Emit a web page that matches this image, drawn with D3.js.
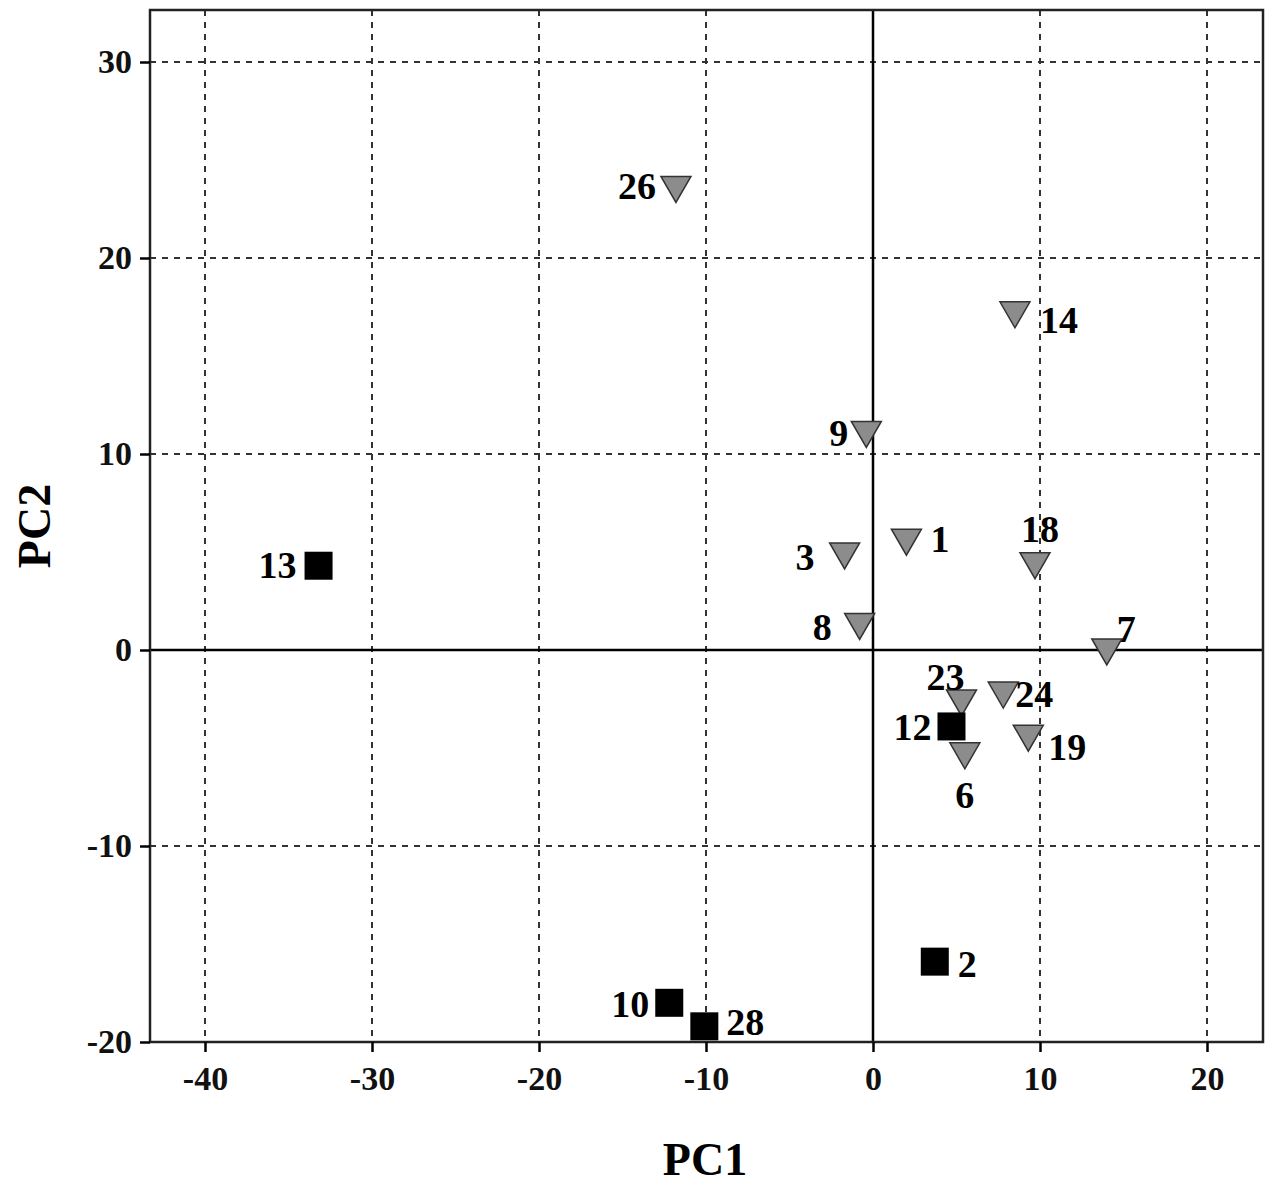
<!DOCTYPE html><html><head><meta charset="utf-8"><script src="https://cdn.jsdelivr.net/npm/d3@7"></script>
<style>body{margin:0;background:#fff}text{font-family:"Liberation Serif","Times New Roman",serif;font-weight:bold}</style></head><body><svg id="c" width="1273" height="1186"></svg><script>
const triLabels=["26","14","9","1","3","18","8","7","23","24","19","6"];
const triX=[-11.8,8.5,-0.4,2.0,-1.7,9.7,-0.8,14.0,5.3,7.8,9.3,5.5];
const triY=[23.5,17.1,11.0,5.5,4.8,4.3,1.2,-0.1,-2.7,-2.3,-4.5,-5.4];
const sqLabels=["13","12","2","10","28"];
const sqX=[-33.2,4.7,3.7,-12.2,-10.1];
const sqY=[4.3,-3.9,-15.9,-18.0,-19.2];
const xTicks=[-40,-30,-20,-10,0,10,20];
const yTicks=[-20,-10,0,10,20,30];
const off={"26":[-20,10,"end"],"14":[25,18,"start"],"9":[-18,12,"end"],"1":[24,10,"start"],"3":[-30,14,"end"],"18":[5,-24,"middle"],"8":[-28,14,"end"],"7":[10,-10,"start"],"23":[-16,-13,"middle"],"24":[12,12,"start"],"19":[20,22,"start"],"6":[0,52,"middle"],"13":[-22,12,"end"],"12":[-20,14,"end"],"2":[23,15,"start"],"10":[-20,14,"end"],"28":[22,9,"start"]};
const svg=d3.select("#c");
const L=150,R=1263,T=10,B=1042;
const x=d3.scaleLinear().domain([-40,20]).range([205,1207]);
const y=d3.scaleLinear().domain([-20,30]).range([1042,62]);
const fmt=d=>String(d);
const g=svg.append("g");
g.selectAll(".gx").data(xTicks).join("line").attr("x1",d=>x(d)).attr("x2",d=>x(d)).attr("y1",T).attr("y2",B).attr("stroke","#333").attr("stroke-width",2).attr("stroke-dasharray","6,6");
g.selectAll(".gy").data(yTicks).join("line").attr("y1",d=>y(d)).attr("y2",d=>y(d)).attr("x1",L).attr("x2",R).attr("stroke","#333").attr("stroke-width",2).attr("stroke-dasharray","6,6");
g.append("line").attr("x1",x(0)).attr("x2",x(0)).attr("y1",T).attr("y2",B).attr("stroke","#000").attr("stroke-width",2.5);
g.append("line").attr("y1",y(0)).attr("y2",y(0)).attr("x1",L).attr("x2",R).attr("stroke","#000").attr("stroke-width",2.5);
g.append("rect").attr("x",L).attr("y",T).attr("width",R-L).attr("height",B-T).attr("fill","none").attr("stroke","#222").attr("stroke-width",2.5);
const xa=svg.append("g").attr("transform",`translate(0,${B})`).call(d3.axisBottom(x).tickValues(xTicks).tickFormat(fmt).tickSize(10).tickPadding(14));
const ya=svg.append("g").attr("transform",`translate(${L},0)`).call(d3.axisLeft(y).tickValues(yTicks).tickFormat(fmt).tickSize(10).tickPadding(8));
[xa,ya].forEach(a=>{a.select(".domain").remove();a.selectAll("line").attr("stroke","#000").attr("stroke-width",2.5);a.selectAll("text").attr("font-size",34).attr("fill","#111").style("font-family","Liberation Serif").style("font-weight","bold");});
svg.append("text").attr("x",705).attr("y",1175).attr("text-anchor","middle").attr("font-size",46).text("PC1");
svg.append("text").attr("transform","translate(50,526) rotate(-90)").attr("text-anchor","middle").attr("font-size",46).text("PC2");
const tri=triLabels.map((l,i)=>({l,x:triX[i],y:triY[i]}));
const sq=sqLabels.map((l,i)=>({l,x:sqX[i],y:sqY[i]}));
svg.selectAll(".t").data(tri).join("path").attr("d",d=>{const cx=x(d.x),cy=y(d.y);return `M${cx-15},${cy-13}L${cx+15},${cy-13}L${cx},${cy+13}Z`}).attr("fill","#8c8c8c").attr("stroke","#333").attr("stroke-width",1.5);
svg.selectAll(".s").data(sq).join("rect").attr("x",d=>x(d.x)-14).attr("y",d=>y(d.y)-14).attr("width",28).attr("height",28).attr("fill","#000");
svg.selectAll(".lb").data(tri.concat(sq)).join("text").attr("x",d=>x(d.x)+off[d.l][0]).attr("y",d=>y(d.y)+off[d.l][1]).attr("text-anchor",d=>off[d.l][2]).attr("font-size",38).attr("fill","#000").text(d=>d.l);
</script></body></html>
